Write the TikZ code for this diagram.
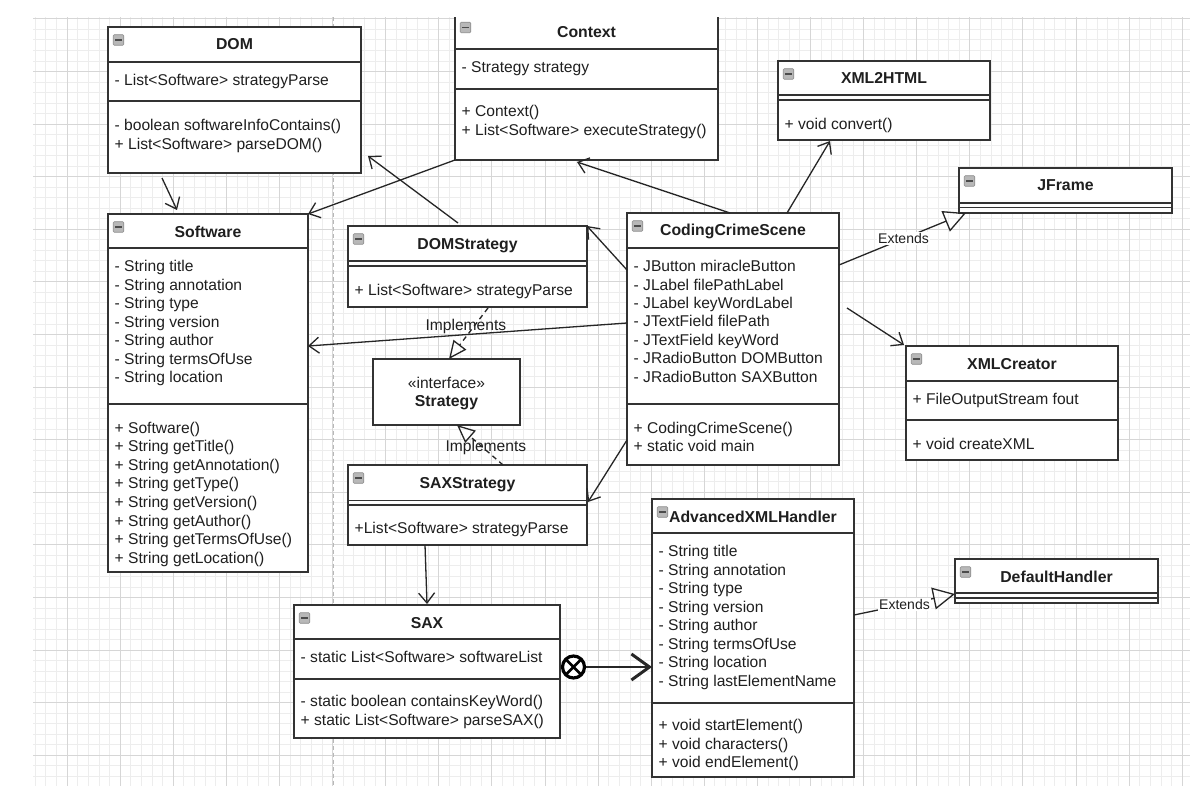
\documentclass[tikz,border=0pt]{standalone}
\usepackage{fontspec}
\setmainfont{Liberation Sans}
\usetikzlibrary{arrows.meta,calc}

\tikzset{
  gridminor/.style={draw=black!7, line width=0.7pt},
  gridmajor/.style={draw=black!16, line width=0.8pt},
  pagebreak/.style={draw=black!28, line width=0.8pt, dash pattern=on 4pt off 3pt},
  classbox/.style={draw=black!80, line width=1.4pt, fill=white, inner sep=0pt, outer sep=0pt},
  classline/.style={draw=black!80, line width=1.4pt},
  titletext/.style={font=\fontsize{15.8}{18}\selectfont\bfseries, text=black!88, inner sep=0pt, anchor=base},
  rowtext/.style={font=\fontsize{15.6}{18}\selectfont, text=black!88, inner sep=0pt, anchor=base west},
  iconbox/.style={draw=black!45, fill=black!28, line width=0.6pt, minimum size=10.5pt, inner sep=0pt,
    rounded corners=1pt,
    path picture={\draw[black!70, line width=1.3pt]
      ([xshift=2.2pt]path picture bounding box.west) -- ([xshift=-2.2pt]path picture bounding box.east);}},
  conn/.style={draw=black!85, line width=1.3pt},
  assoc/.style={conn, -{Straight Barb[length=10pt, width=16pt]}},
  extends/.style={conn, -{Triangle[open, length=22pt, width=22pt]}},
  realizes/.style={conn, dash pattern=on 5pt off 4pt, -{Triangle[open, length=18pt, width=16pt]}},
  edgelabel/.style={font=\fontsize{14}{16}\selectfont, text=black!88, fill=white, inner sep=1pt},
  implabel/.style={font=\fontsize{15.6}{18}\selectfont, text=black!88, inner sep=0pt},
  ownership/.style={draw=black, line width=3.2pt, circle, minimum size=22pt, inner sep=0pt, fill=white,
    path picture={\draw[black, line width=2.6pt]
      (path picture bounding box.north west) -- (path picture bounding box.south east)
      (path picture bounding box.north east) -- (path picture bounding box.south west);}},
}

% class box: name, left, top, width, height, header height, title
\newcommand\umlclass[7]{%
  \node[classbox, minimum width=#4, minimum height=#5, anchor=north west] (#1) at (#2,#3) {};
  \node[titletext] (#1-title) at ($(#1.north)+(0,23)$) {#7};
  \draw[classline] ($(#1.north west)+(0,#6)$) -- ($(#1.north east)+(0,#6)$);
  \node[iconbox] (#1-icon) at ($(#1.north west)+(10.5,13)$) {};
}
% horizontal compartment line at a given depth below the top
\newcommand\sepline[2]{%
  \draw[classline] ($(#1.north west)+(0,#2)$) -- ($(#1.north east)+(0,#2)$);
}
% member rows: box, suffix, first baseline depth, row step, list
\newcommand\umlrows[5]{%
  \foreach \t [count=\i] in {#5}
    \node[rowtext] (#1-#2\i) at ($(#1.north west)+(6.5,{#3+(\i-1)*#4})$) {\t};
}

\begin{document}
\begin{tikzpicture}[x=1pt, y=-1pt]
\useasboundingbox[fill=white] (0,0) rectangle (1190,786);

\begin{scope}
  \clip (33,17.5) rectangle (1190,786);
  % background grid
  \foreach \j in {-4,...,106}
    \draw[gridminor] ({67+\j*10.62},17.5) -- ++(0,770);
  \foreach \j in {-1,...,73}
    \draw[gridminor] (33,{18.8+\j*10.52}) -- ++(1160,0);
  \foreach \k in {-1,...,21}
    \draw[gridmajor] ({67+\k*53.1},17.5) -- ++(0,770);
  \foreach \k in {0,...,14}
    \draw[gridmajor] (33,{18.8+\k*52.6}) -- ++(1160,0);
  \draw[pagebreak] (333,17.5) -- (333,786);
\end{scope}

\begin{scope}
\clip (0,17.5) rectangle (1190,786);

% ---------- classes ----------
\umlclass{dom}{108}{27}{253}{146}{35}{DOM}
\sepline{dom}{74}
\umlrows{dom}{a}{58.5}{18.5}{- List<Software> strategyParse}
\umlrows{dom}{m}{104}{18.5}{- boolean softwareInfoContains(),+ List<Software> parseDOM()}

\umlclass{ctx}{455}{14.5}{263}{145.5}{34.5}{Context}
\sepline{ctx}{74.5}
\umlrows{ctx}{a}{58.2}{18.5}{- Strategy strategy}
\umlrows{ctx}{m}{102.5}{18.5}{+ Context(),+ List<Software> executeStrategy()}

\umlclass{xh}{778}{61}{212}{79}{34}{XML2HTML}
\sepline{xh}{39}
\umlrows{xh}{m}{69}{18.5}{+ void convert()}

\umlclass{jf}{959}{168}{213}{45}{35}{JFrame}
\sepline{jf}{39.5}

\umlclass{sw}{108}{214}{200}{358}{34}{Software}
\sepline{sw}{190}
\umlrows{sw}{a}{57.7}{18.5}{- String title,- String annotation,- String type,- String version,- String author,- String termsOfUse,- String location}
\umlrows{sw}{m}{219}{18.6}{+ Software(),+ String getTitle(),+ String getAnnotation(),+ String getType(),+ String getVersion(),+ String getAuthor(),+ String getTermsOfUse(),+ String getLocation()}

\umlclass{ds}{348}{226}{239}{81}{35}{DOMStrategy}
\sepline{ds}{40}
\umlrows{ds}{m}{69}{18.5}{+ List<Software> strategyParse}

\node[classbox, minimum width=147, minimum height=66, anchor=north west] (strat) at (373,359) {};
\node[rowtext, anchor=base] (strat-st) at ($(strat.north)+(0,29)$) {«interface»};
\node[titletext] (strat-title) at ($(strat.north)+(0,47.7)$) {Strategy};

\umlclass{ss}{348}{465}{239}{80}{35.5}{SAXStrategy}
\sepline{ss}{40}
\umlrows{ss}{m}{68}{18.5}{+List<Software> strategyParse}

\umlclass{sax}{294}{605}{266}{133}{34}{SAX}
\sepline{sax}{74}
\umlrows{sax}{a}{57.7}{18.5}{- static List<Software> softwareList}
\umlrows{sax}{m}{101.7}{18.4}{- static boolean containsKeyWord(),+ static List<Software> parseSAX()}

\umlclass{ccs}{627}{213}{212}{252}{35}{CodingCrimeScene}
\sepline{ccs}{191}
\umlrows{ccs}{a}{58.7}{18.4}{- JButton miracleButton,- JLabel filePathLabel,- JLabel keyWordLabel,- JTextField filePath,- JTextField keyWord,- JRadioButton DOMButton,- JRadioButton SAXButton}
\umlrows{ccs}{m}{220}{18.5}{+ CodingCrimeScene(),+ static void main}

\umlclass{xc}{906}{346}{212}{114}{35}{XMLCreator}
\sepline{xc}{74}
\umlrows{xc}{a}{58}{18.5}{+ FileOutputStream fout}
\umlrows{xc}{m}{103}{18.5}{+ void createXML}

\umlclass{adv}{652}{499}{202}{278}{34}{AdvancedXMLHandler}
\sepline{adv}{204}
\umlrows{adv}{a}{57.7}{18.5}{- String title,- String annotation,- String type,- String version,- String author,- String termsOfUse,- String location,- String lastElementName}
\umlrows{adv}{m}{231.7}{18.6}{+ void startElement(),+ void characters(),+ void endElement()}

\umlclass{dh}{955}{559}{203}{44}{34}{DefaultHandler}
\sepline{dh}{39}

% ---------- relations ----------
\draw[assoc] ($(dom.south west)+(54,5)$) -- ($(sw.north west)+(69,-4)$);
\draw[assoc] (ctx.south west) -- (sw.north east);
\draw[assoc] ($(ds.north west)+(110,-3)$) -- ($(dom.south east)+(7,-17)$);
\draw[assoc] ($(ccs.north west)+(103,0)$) -- ($(ctx.south west)+(122,2)$);
\draw[assoc] ($(ccs.north west)+(160,0)$) -- ($(xh.south west)+(52,1)$);
\draw[assoc] ($(ccs.north west)+(0,57)$) -- (ds.north east);
\draw[assoc] ($(ccs.north west)+(0,110)$) -- ($(sw.north east)+(0,132)$);
\draw[assoc] ($(ccs.south west)+(0,-25)$) -- ($(ss.north east)+(1,37)$);
\draw[assoc] ($(ccs.north east)+(8,95)$) -- ($(xc.north west)+(-2,-1)$);
\draw[assoc] ($(ss.south west)+(77,0)$) -- ($(sax.north west)+(133,-1)$);

\draw[extends] ($(ccs.north east)+(0,52)$) --
  node[edgelabel, pos=0.508] (ext1) {Extends} ($(jf.south west)+(7,0)$);
\draw[extends] ($(adv.north east)+(0,116)$) --
  node[edgelabel, pos=0.5] (ext2) {Extends} ($(dh.south west)+(0,-9)$);

\draw[realizes] ($(ds.south west)+(140,1)$) --
  node[implabel, pos=0.363, xshift=-8pt] (imp1) {Implements} ($(strat.north west)+(76,0)$);
\draw[realizes] ($(ss.north west)+(155,0)$) --
  node[implabel, pos=0.4375, xshift=3pt] (imp2) {Implements} ($(strat.south west)+(84,0)$);

\node[ownership] (own) at (573.5,667) {};
\draw[conn, -{Straight Barb[length=18pt, width=26pt, line width=3pt]}] (own.east) -- (own.east -| adv.west);
\end{scope}
\end{tikzpicture}
\end{document}
